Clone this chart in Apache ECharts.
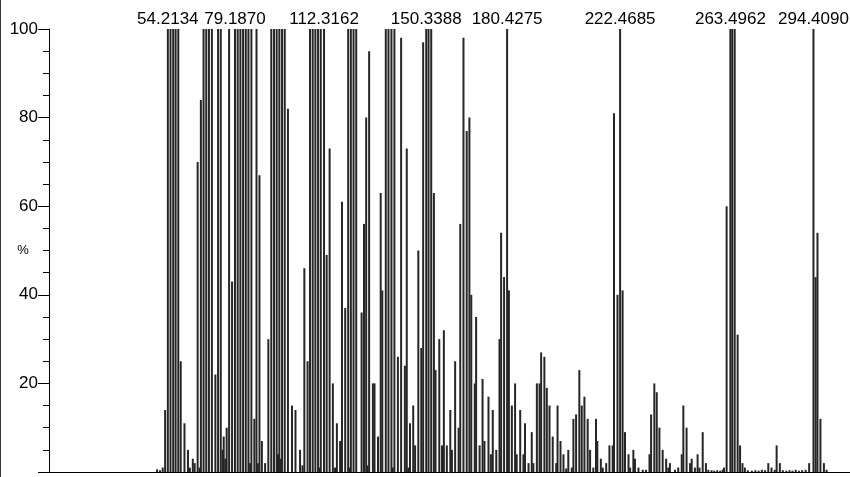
<!DOCTYPE html>
<html>
<head>
<meta charset="utf-8">
<style>
  html, body { margin: 0; padding: 0; background: #fff; }
  #chart { width: 850px; height: 477px; }
</style>
<script src="https://cdn.jsdelivr.net/npm/echarts@6.0.0/dist/echarts.min.js"></script>
</head>
<body>
<div id="chart"></div>
<script>
// m/z of each stick
const mz = [
  50.2, 51.3, 52.3, 53.2, 54.2134, 55.2, 56.2, 57.1, 58.1, 59.0, 60.4, 61.7, 62.4, 63.5, 64.2,
  65.3, 66.0, 66.5, 67.5, 68.5, 69.5, 70.6, 71.9, 72.9, 73.9, 74.6, 75.0, 75.6, 76.1, 77.0, 78.1,
  79.187, 80.2, 81.2, 82.2, 83.2, 84.2, 84.8, 85.3, 86.4, 87.2, 87.7, 88.3, 89.2, 90.4, 91.6,
  92.7, 93.7, 94.7, 95.2, 95.7, 96.2, 96.7, 97.7, 98.9,
  100.4, 101.7, 103.4, 104.3, 105.0, 106.2, 107.1, 108.1, 109.1, 110.1, 110.6, 111.1, 112.3162,
  113.3, 114.4, 115.6, 116.4, 117.1, 118.3, 119.0, 120.2,
  121.3, 121.9, 122.3, 123.3, 124.3, 126.3, 127.2, 128.0, 128.5, 129.1, 130.5, 131.1, 132.4,
  133.4, 134.0, 135.3, 136.3, 137.4, 137.9, 138.5, 139.8, 141.0, 142.4, 143.1, 143.7, 144.3,
  145.5, 146.2, 147.4, 148.5, 149.2, 150.3388, 151.2, 152.2, 153.2, 153.8, 155.2, 156.2, 156.9,
  158.0, 159.3, 159.9,
  161.1, 162.4, 163.0, 164.2, 165.4, 166.4, 167.1, 168.4, 168.9, 170.2, 171.3, 172.0, 173.5,
  174.4, 175.1, 176.4, 177.6, 178.2, 179.3, 180.4275, 181.1, 182.2, 183.4, 184.0, 185.3, 186.5,
  187.1, 188.4, 189.6, 190.2, 191.5, 192.5, 193.1, 194.3, 195.2, 196.2, 197.4, 198.7, 199.2, 200.3,
  201.4, 202.4, 203.2, 204.5, 205.1, 206.1, 207.3, 208.2, 209.2, 210.4, 211.3, 212.5, 213.5,
  214.0, 215.3, 216.0, 217.3, 218.5, 219.7, 220.2, 221.5, 222.4685, 223.4, 224.3, 225.6, 226.2,
  227.4, 228.0, 229.3, 230.9, 232.1, 233.4, 234.0, 235.2, 236.1, 237.1, 238.3, 239.6, 240.4,
  241.0, 242.9, 244.1, 245.4, 246.0, 247.2, 248.5, 249.1, 250.3, 251.3, 252.0, 253.2, 254.4,
  255.3, 256.5, 257.5, 258.6, 259.7, 260.6, 261.1,
  262.1, 263.4962, 264.2, 265.1, 266.2, 267.1, 268.0, 268.9, 270.0, 271.5, 272.8, 274.0, 275.2,
  276.4, 277.6, 278.8, 280.0, 280.7, 281.9, 283.0, 284.3, 285.5, 286.6, 287.8, 289.0, 290.2,
  291.5, 292.8, 294.409, 295.2, 295.9, 297.0, 298.3, 299.3
];

// relative intensity (%) of each stick
const intensity = [
  0.6, 0.4, 1.0, 14, 100, 100, 100, 100, 100, 25, 11, 5, 1, 3, 2,
  70, 1, 84, 100, 100, 100, 100, 22, 100, 100, 5, 8, 3, 10, 100, 43,
  100, 100, 100, 100, 100, 100, 2, 100, 12, 100, 2, 67, 7, 2, 30,
  100, 100, 100, 4, 100, 3, 100, 100, 82,
  15, 14, 5, 1.5, 46, 25, 100, 100, 100, 100, 1, 100, 100,
  49, 73, 20, 1, 11, 7, 61, 37,
  100, 1, 100, 100, 100, 36, 56, 80, 1.5, 95, 20, 20, 8,
  63, 41, 100, 100, 100, 1, 100, 26, 98, 24, 73, 1, 11,
  15, 6, 50, 28, 97, 100, 100, 100, 63, 23, 30, 6, 32,
  6, 14, 5,
  25, 10, 56, 98, 77, 80, 40, 20, 35, 6, 21, 7, 17,
  4, 14, 5, 30, 54, 44, 100, 41, 15, 20, 4, 14, 4,
  11, 2, 9, 2, 20, 20, 27, 26, 19, 15, 8, 2, 15, 7,
  4, 0.8, 5, 1, 12, 13, 23, 15, 17, 12, 5, 1, 12,
  7, 3, 1, 2, 6, 6, 81, 40, 100, 41, 9, 4, 1,
  5, 3, 1, 0.5, 0.5, 4, 13, 20, 18, 10, 5, 3, 1,
  2, 0.5, 1, 4, 15, 10, 2, 3, 1, 4, 1, 9, 2,
  0.5, 0.4, 0.3, 0.4, 0.3, 0.5, 1,
  60, 100, 100, 100, 31, 6, 2, 1, 0.4, 0.3, 0.4, 0.3, 0.5,
  0.4, 2, 1, 0.5, 6, 2, 0.4, 0.3, 0.4, 0.3, 0.5, 0.3, 0.4,
  0.5, 2, 100, 44, 54, 12, 2, 0.5
];

// annotated peaks (label text)
const peakLabels = ['54.2134', '79.1870', '112.3162', '150.3388', '180.4275', '222.4685', '263.4962', '294.4090'];

// y-axis ticks
const yTicks = [0, 20, 40, 60, 80, 100];
const xRange = [10, 308];

const FONT = '"Liberation Sans", Arial, sans-serif';
const labelNudge = { '54.2134': -2, '79.1870': -7, '112.3162': -2, '150.3388': -5, '180.4275': -6, '222.4685': -2, '263.4962': -2, '294.4090': -4 };

const data = mz.map((m, i) => {
  const lbl = peakLabels.find(t => Math.abs(parseFloat(t) - m) < 1e-6);
  const item = { value: [m, intensity[i]] };
  if (lbl) {
    item.label = { show: true, formatter: lbl, offset: [labelNudge[lbl] || 0, 0] };
  }
  return item;
});

const chart = echarts.init(document.getElementById('chart'), null, { renderer: 'canvas' });
chart.setOption({
  animation: false,
  backgroundColor: '#fff',
  grid: { left: 49, right: 0, top: 29, bottom: 5, containLabel: false, outerBoundsMode: 'none' },
  xAxis: {
    type: 'value',
    min: xRange[0],
    max: xRange[1],
    axisLine: { show: true, onZero: false, lineStyle: { color: '#000', width: 1 } },
    axisTick: { show: false },
    axisLabel: { show: false },
    splitLine: { show: false }
  },
  yAxis: {
    type: 'value',
    min: yTicks[0],
    max: yTicks[yTicks.length - 1],
    interval: yTicks[1] - yTicks[0],
    name: '%',
    nameLocation: 'middle',
    nameGap: 26,
    nameRotate: 0,
    nameMoveOverlap: false,
    nameTextStyle: { fontSize: 13, color: '#000', fontFamily: FONT, align: 'center', verticalAlign: 'middle' },
    axisLine: { show: true, lineStyle: { color: '#000', width: 1 } },
    axisTick: { show: true, length: 11, lineStyle: { color: '#000', width: 1 } },
    minorTick: { show: true, splitNumber: 4, length: 6, lineStyle: { color: '#000', width: 1 } },
    axisLabel: {
      margin: 11,
      fontSize: 17,
      fontFamily: FONT,
      color: '#000',
      formatter: v => (v === 0 ? '' : String(v))
    },
    splitLine: { show: false },
    minorSplitLine: { show: false }
  },
  graphic: [
    { type: 'rect', left: 0, top: 0, shape: { width: 1, height: 477 }, style: { fill: '#333' }, silent: true }
  ],
  series: [{
    type: 'bar',
    data: data,
    barWidth: 2,
    silent: true,
    itemStyle: { color: '#262626' },
    label: {
      show: false,
      position: 'top',
      distance: 1,
      fontSize: 17,
      fontFamily: FONT,
      color: '#000'
    },
    labelLayout: { hideOverlap: false }
  }]
});
</script>
</body>
</html>
